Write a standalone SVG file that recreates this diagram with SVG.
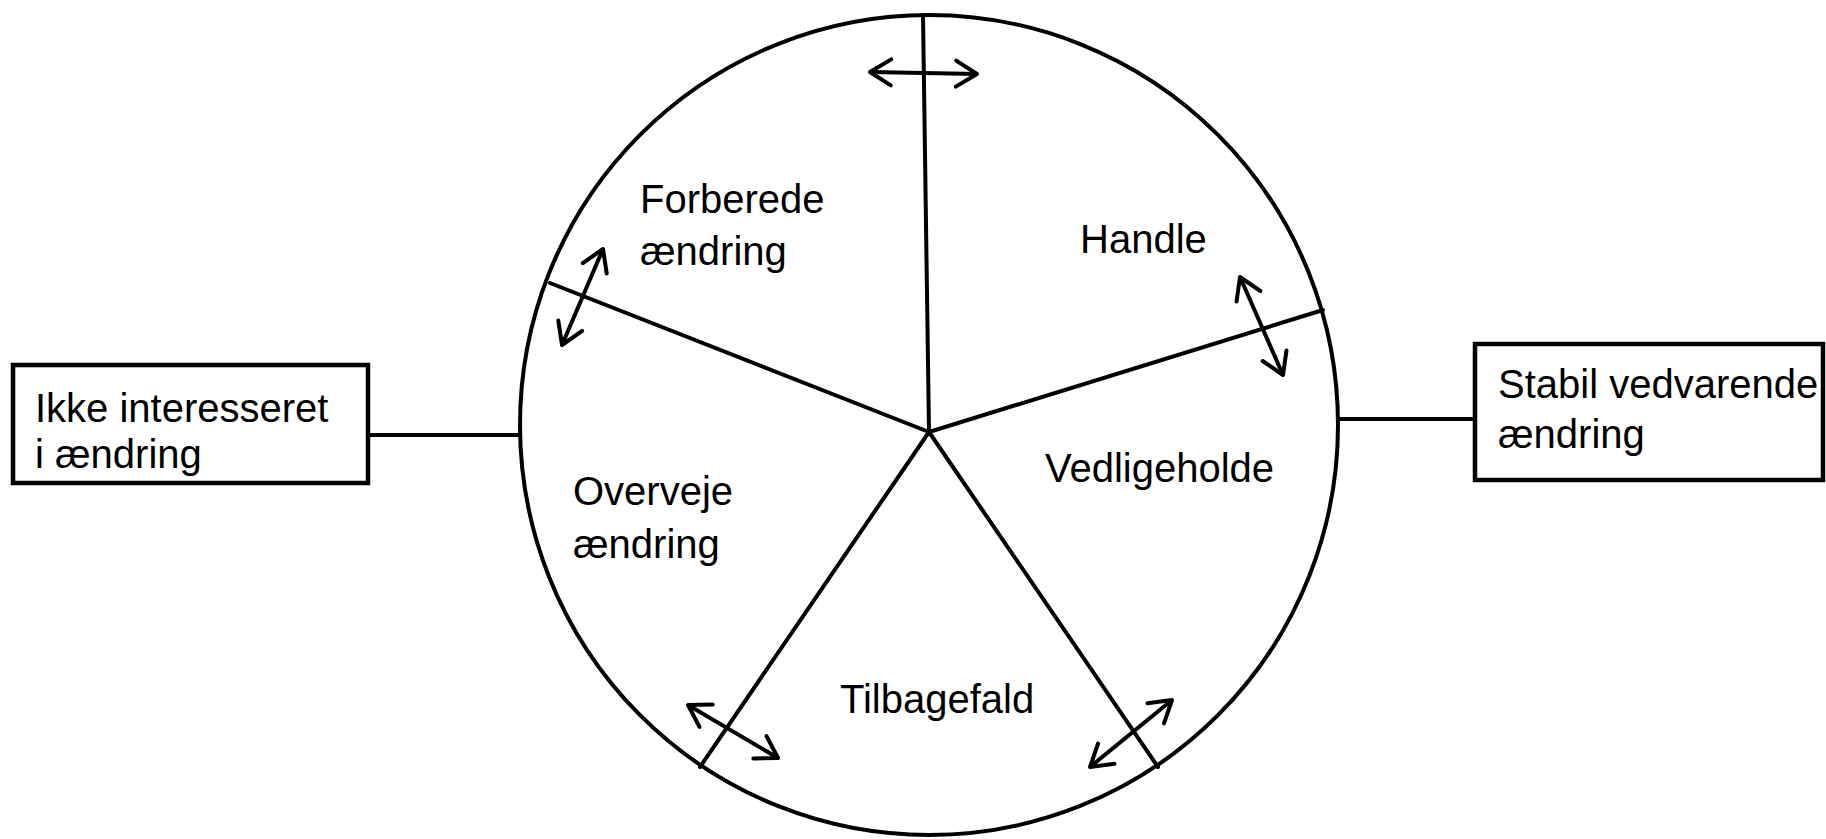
<svg xmlns="http://www.w3.org/2000/svg" width="1826" height="839" viewBox="0 0 1826 839">
  <style>
    .ln { stroke: #000; stroke-width: 4; fill: none; stroke-linecap: round; }
    .box { stroke: #000; stroke-width: 4.5; fill: #fff; }
    .arr { stroke: #000; stroke-width: 4; fill: none; marker-start: url(#head); marker-end: url(#head); }
    .lbl { font-family: "Liberation Sans", Arial, sans-serif; font-size: 40px; fill: #000; }
  </style>
  <defs>
    <marker id="head" markerUnits="userSpaceOnUse" markerWidth="30" markerHeight="30" viewBox="0 0 30 30" refX="24" refY="15" orient="auto-start-reverse" overflow="visible">
      <path d="M3,2 L24,15 L3,28" fill="none" stroke="#000" stroke-width="4" stroke-linejoin="round" stroke-linecap="round"/>
    </marker>
  </defs>
  <rect width="1826" height="839" fill="#fff"/>

  <g id="wheel">
    <ellipse cx="929" cy="425" rx="409" ry="410" class="ln"/>
  </g>

  <g id="connectors">
    <line x1="929" y1="432" x2="923" y2="15" class="ln"/>
    <line x1="929" y1="432" x2="550" y2="283" class="ln"/>
    <line x1="929" y1="432" x2="1323" y2="310" class="ln"/>
    <line x1="929" y1="432" x2="700" y2="767" class="ln"/>
    <line x1="929" y1="432" x2="1158" y2="767" class="ln"/>
    <line x1="368" y1="435" x2="520" y2="435" class="ln"/>
    <line x1="1338" y1="419" x2="1475" y2="419" class="ln"/>
    <line x1="870" y1="72" x2="977" y2="74" class="arr"/>
    <line x1="603" y1="249" x2="562" y2="345" class="arr"/>
    <line x1="1240" y1="277" x2="1283" y2="375" class="arr"/>
    <line x1="688" y1="705" x2="778" y2="758" class="arr"/>
    <line x1="1172" y1="700" x2="1090" y2="767" class="arr"/>
  </g>

  <g id="forberede">
    <text class="lbl" x="640" y="213">Forberede</text>
    <text class="lbl" x="640" y="265">ændring</text>
  </g>
  <g id="handle">
    <text class="lbl" x="1080" y="253">Handle</text>
  </g>
  <g id="vedligeholde">
    <text class="lbl" x="1045" y="482">Vedligeholde</text>
  </g>
  <g id="overveje">
    <text class="lbl" x="573" y="505">Overveje</text>
    <text class="lbl" x="573" y="558">ændring</text>
  </g>
  <g id="tilbagefald">
    <text class="lbl" x="840" y="713">Tilbagefald</text>
  </g>

  <g id="ikke-interesseret">
    <rect x="13" y="365" width="355" height="118" class="box"/>
    <text class="lbl" x="35" y="422">Ikke interesseret</text>
    <text class="lbl" x="35" y="468">i ændring</text>
  </g>
  <g id="stabil">
    <rect x="1475" y="344" width="348" height="136" class="box"/>
    <text class="lbl" x="1498" y="398">Stabil vedvarende</text>
    <text class="lbl" x="1498" y="448">ændring</text>
  </g>
</svg>
